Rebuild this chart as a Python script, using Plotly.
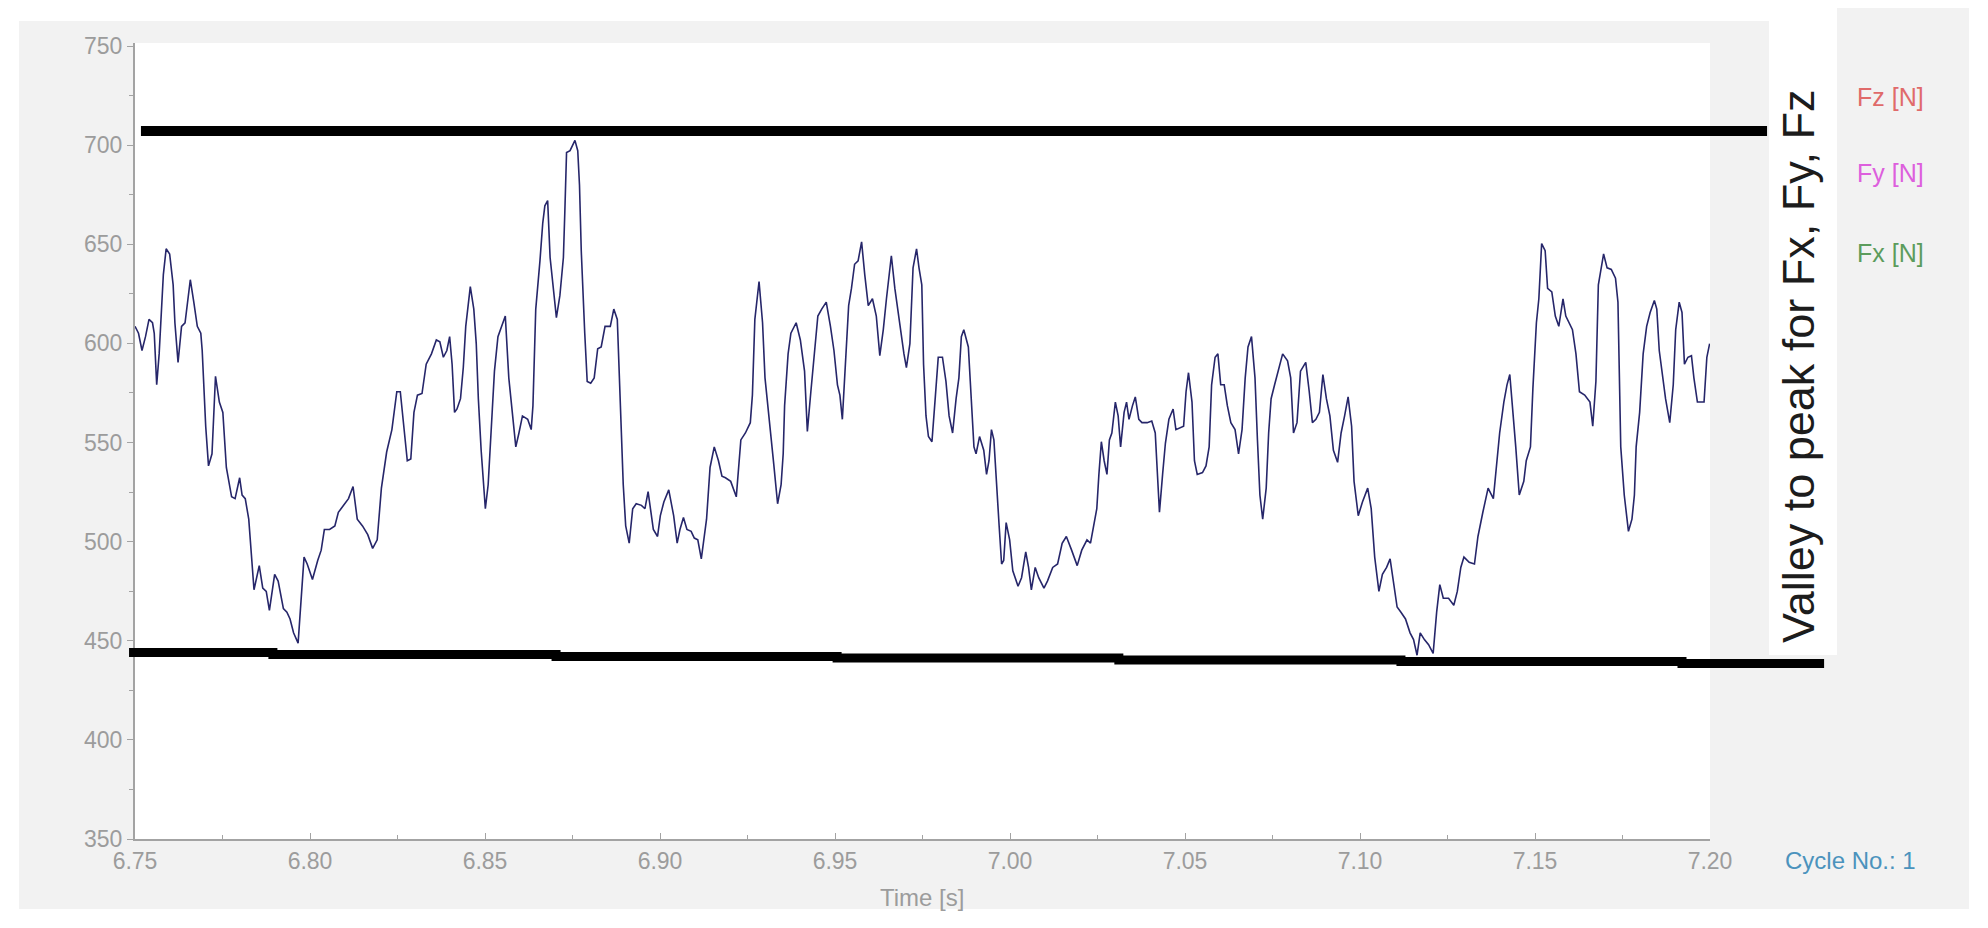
import plotly.graph_objects as go

# browser page is 1988x928; the html body adds an 8px margin, so the figure is
# 8px smaller on each axis and all page-pixel positions are shifted by 8px.
PAGE_OFF = 8
W, H = 1988 - PAGE_OFF, 928 - PAGE_OFF

# ---------------- data ----------------
time_s = [
    6.7500, 6.7510, 6.7520, 6.7530, 6.7540, 6.7550, 6.7555, 6.7562, 6.7569, 6.7576,
    6.7581, 6.7589, 6.7599, 6.7609, 6.7614, 6.7623, 6.7633, 6.7643, 6.7658, 6.7668,
    6.7678, 6.7688, 6.7692, 6.7702, 6.7710, 6.7720, 6.7730, 6.7741, 6.7751, 6.7761,
    6.7776, 6.7786, 6.7799, 6.7806, 6.7815, 6.7825, 6.7835, 6.7840, 6.7855, 6.7865,
    6.7875, 6.7884, 6.7899, 6.7909, 6.7924, 6.7934, 6.7943, 6.7953, 6.7966, 6.7978,
    6.7983, 6.7992, 6.8007, 6.8022, 6.8032, 6.8041, 6.8056, 6.8071, 6.8081, 6.8096,
    6.8110, 6.8123, 6.8135, 6.8150, 6.8165, 6.8179, 6.8192, 6.8204, 6.8219, 6.8234,
    6.8248, 6.8258, 6.8268, 6.8278, 6.8288, 6.8297, 6.8307, 6.8320, 6.8332, 6.8347,
    6.8361, 6.8371, 6.8381, 6.8391, 6.8399, 6.8406, 6.8413, 6.8420, 6.8430, 6.8438,
    6.8445, 6.8458, 6.8468, 6.8475, 6.8481, 6.8489, 6.8501, 6.8509, 6.8521, 6.8527,
    6.8537, 6.8548, 6.8558, 6.8568, 6.8578, 6.8588, 6.8597, 6.8607, 6.8622, 6.8632,
    6.8637, 6.8645, 6.8657, 6.8665, 6.8671, 6.8679, 6.8686, 6.8696, 6.8704, 6.8714,
    6.8724, 6.8728, 6.8733, 6.8743, 6.8750, 6.8757, 6.8765, 6.8770, 6.8775, 6.8780,
    6.8785, 6.8792, 6.8802, 6.8812, 6.8822, 6.8832, 6.8843, 6.8858, 6.8868, 6.8878,
    6.8883, 6.8888, 6.8895, 6.8902, 6.8912, 6.8922, 6.8932, 6.8947, 6.8957, 6.8966,
    6.8973, 6.8981, 6.8993, 6.9001, 6.9011,
    6.9025, 6.9039, 6.9049, 6.9057, 6.9067, 6.9077, 6.9089, 6.9098, 6.9108, 6.9118,
    6.9133, 6.9143, 6.9155, 6.9167, 6.9177, 6.9187, 6.9202, 6.9218, 6.9231, 6.9244,
    6.9258, 6.9264, 6.9271, 6.9283, 6.9293, 6.9300, 6.9313, 6.9325, 6.9336, 6.9346,
    6.9352, 6.9356, 6.9366, 6.9374, 6.9389, 6.9401, 6.9413, 6.9421, 6.9431, 6.9441,
    6.9451, 6.9462, 6.9475, 6.9487, 6.9497, 6.9507, 6.9514, 6.9521, 6.9531, 6.9539,
    6.9547, 6.9556, 6.9566, 6.9576, 6.9585, 6.9595, 6.9607, 6.9618, 6.9628, 6.9638,
    6.9647, 6.9661, 6.9671, 6.9679, 6.9689, 6.9697, 6.9704, 6.9714, 6.9723, 6.9733,
    6.9740, 6.9748, 6.9753, 6.9760, 6.9767, 6.9777, 6.9787, 6.9795, 6.9807, 6.9817,
    6.9826, 6.9836, 6.9846, 6.9854, 6.9861, 6.9868, 6.9881, 6.9890, 6.9897, 6.9903,
    6.9913, 6.9925, 6.9933, 6.9940, 6.9947, 6.9954, 6.9962, 6.9969, 6.9976, 6.9982,
    6.9989, 6.9999, 7.0008, 7.0023, 7.0033, 7.0045, 7.0053, 7.0061, 7.0072, 7.0082,
    7.0097, 7.0107, 7.0122, 7.0136, 7.0149, 7.0161, 7.0176, 7.0192, 7.0205, 7.0220,
    7.0230, 7.0238, 7.0248, 7.0254, 7.0261, 7.0269, 7.0277, 7.0284, 7.0291, 7.0301,
    7.0309, 7.0316, 7.0326, 7.0333, 7.0340, 7.0350, 7.0358, 7.0368, 7.0377, 7.0392,
    7.0405, 7.0415, 7.0422, 7.0427, 7.0436, 7.0444, 7.0454, 7.0466, 7.0474, 7.0484,
    7.0496, 7.0503, 7.0510, 7.0520, 7.0527, 7.0535, 7.0550, 7.0560, 7.0569, 7.0576,
    7.0586, 7.0594, 7.0602, 7.0612, 7.0621, 7.0631, 7.0643, 7.0653, 7.0663, 7.0672,
    7.0680, 7.0690, 7.0700, 7.0707, 7.0714, 7.0722, 7.0732, 7.0739, 7.0746, 7.0756,
    7.0766, 7.0779, 7.0793, 7.0802, 7.0810, 7.0820, 7.0830, 7.0845, 7.0855, 7.0864,
    7.0874, 7.0884, 7.0894, 7.0904, 7.0914, 7.0924, 7.0936, 7.0946, 7.0956, 7.0966,
    7.0976, 7.0983, 7.0995, 7.1007, 7.1022, 7.1032, 7.1042, 7.1054, 7.1064, 7.1076,
    7.1086, 7.1096, 7.1106, 7.1117, 7.1130, 7.1143, 7.1153, 7.1163, 7.1172, 7.1184,
    7.1196, 7.1209, 7.1219, 7.1228, 7.1238, 7.1253, 7.1268, 7.1278, 7.1288, 7.1297,
    7.1312, 7.1327, 7.1337, 7.1351, 7.1366, 7.1381, 7.1389, 7.1399, 7.1411, 7.1420,
    7.1428, 7.1438, 7.1445, 7.1455, 7.1468, 7.1475, 7.1487, 7.1494, 7.1504, 7.1511,
    7.1519, 7.1529, 7.1536, 7.1548, 7.1558, 7.1568, 7.1580, 7.1588, 7.1597, 7.1607,
    7.1617, 7.1627, 7.1642, 7.1657, 7.1665, 7.1674, 7.1681, 7.1696, 7.1706, 7.1718,
    7.1730, 7.1737, 7.1745, 7.1755, 7.1767, 7.1777, 7.1784, 7.1789, 7.1799, 7.1809,
    7.1819, 7.1829, 7.1841, 7.1848, 7.1855, 7.1863, 7.1873, 7.1885, 7.1895, 7.1902,
    7.1912, 7.1920, 7.1927, 7.1937, 7.1947, 7.1954, 7.1964, 7.1974, 7.1983, 7.1991,
    7.1999,
]

force_n = [
    608.6, 605.1, 596.4, 603.4, 612.1, 610.4, 605.1, 579.1, 594.7, 622.5,
    634.7, 647.7, 645.1, 629.5, 610.4, 590.4, 608.6, 610.4, 632.1, 620.8,
    608.6, 605.1, 596.4, 558.2, 538.2, 544.3, 583.4, 570.4, 565.2, 537.4,
    522.6, 521.7, 532.2, 523.5, 521.7, 511.3, 490.5, 475.7, 487.9, 476.6,
    474.9, 465.3, 483.5, 480.1, 466.2, 464.4, 461.0, 454.0, 448.8, 481.8,
    492.2, 488.7, 480.9, 490.5, 495.7, 506.1, 506.1, 507.9, 514.8, 518.3,
    521.7, 527.8, 511.3, 507.9, 503.5, 496.6, 500.9, 527.0, 545.2, 556.5,
    575.6, 575.6, 558.2, 540.8, 541.7, 565.2, 573.9, 574.7, 589.5, 594.7,
    601.7, 600.8, 593.0, 596.4, 603.4, 589.5, 565.2, 566.9, 572.1, 587.8,
    608.6, 628.6, 617.3, 599.9, 572.1, 546.1, 516.6, 528.7, 566.9, 586.0,
    603.4, 608.6, 613.8, 582.6, 565.2, 547.8, 554.8, 563.4, 561.7, 556.5,
    568.6, 617.3, 641.6, 660.7, 669.4, 672.0, 643.3, 624.2, 613.0, 624.2,
    643.3, 665.9, 696.3, 697.2, 699.8, 702.4, 697.2, 679.8, 646.8, 620.8,
    605.1, 580.8, 579.9, 582.6, 597.3, 598.2, 608.6, 608.6, 617.3, 612.1,
    586.0, 560.8, 528.7, 507.9, 499.2, 516.6, 519.1, 518.3, 516.6, 525.2,
    516.6, 506.1, 502.6, 513.1, 520.0,
    526.1, 513.1, 499.2, 506.1, 512.2, 506.1, 505.2, 501.8, 500.9, 491.3,
    511.3, 537.4, 547.8, 540.8, 533.0, 532.2, 530.4, 522.6, 551.3, 554.8,
    560.0, 573.9, 612.1, 631.2, 610.4, 582.6, 558.2, 539.1, 519.1, 528.7,
    544.3, 568.6, 594.7, 605.1, 610.4, 601.7, 586.0, 555.6, 575.6, 594.7,
    613.8, 617.3, 620.8, 608.6, 596.4, 579.1, 573.9, 561.7, 594.7, 619.0,
    627.7, 639.9, 641.6, 651.2, 634.7, 619.0, 622.5, 613.8, 593.8, 606.9,
    622.5, 644.2, 627.7, 617.3, 603.4, 594.7, 587.8, 599.9, 638.1, 647.7,
    638.1, 629.5, 589.5, 563.4, 553.0, 550.4, 573.9, 593.0, 593.0, 580.8,
    563.4, 554.8, 572.1, 582.6, 603.4, 606.9, 598.2, 568.6, 547.8, 544.3,
    553.0, 546.1, 533.9, 540.8, 556.5, 551.3, 525.2, 507.9, 488.7, 490.5,
    509.6, 500.9, 485.3, 477.5, 481.8, 494.8, 487.0, 475.7, 487.0, 481.8,
    476.6, 480.1, 487.0, 488.7, 499.2, 502.6, 495.7, 487.9, 495.7, 500.9,
    499.2, 507.9, 516.6, 533.9, 550.4, 540.8, 533.9, 551.3, 554.8, 570.4,
    563.4, 547.8, 565.2, 570.4, 561.7, 568.6, 573.0, 561.7, 560.0, 560.0,
    560.8, 554.8, 533.9, 514.8, 533.9, 549.6, 561.7, 566.9, 556.5, 557.4,
    558.2, 575.6, 585.2, 570.4, 540.8, 533.9, 534.8, 538.2, 547.8, 579.1,
    593.0, 594.7, 579.1, 579.1, 568.6, 560.0, 556.5, 544.3, 556.5, 582.6,
    598.2, 603.4, 582.6, 551.3, 523.5, 511.3, 527.0, 554.8, 572.1, 579.1,
    586.0, 594.7, 591.2, 582.6, 554.8, 560.0, 586.0, 590.4, 575.6, 560.0,
    561.7, 565.2, 584.3, 572.1, 563.4, 546.1, 540.0, 554.8, 563.4, 573.0,
    558.2, 530.4, 513.1, 520.0, 527.0, 516.6, 492.2, 474.9, 483.5, 487.0,
    491.3, 480.1, 467.0, 464.4, 461.0, 454.0, 450.6, 442.7, 454.0, 450.6,
    448.0, 443.6, 464.4, 478.3, 471.4, 471.4, 467.9, 474.9, 487.0, 492.2,
    489.6, 488.7, 502.6, 514.8, 527.0, 521.7, 537.4, 554.8, 570.4, 579.1,
    584.3, 565.2, 547.8, 523.5, 530.4, 540.8, 547.8, 577.3, 610.4, 622.5,
    650.3, 646.8, 627.7, 626.0, 613.8, 608.6, 622.5, 613.8, 610.4, 606.9,
    594.7, 575.6, 573.9, 570.4, 558.2, 580.8, 629.5, 645.1, 638.1, 637.3,
    632.9, 620.8, 547.8, 523.5, 505.2, 511.3, 523.5, 547.8, 565.2, 594.7,
    608.6, 615.6, 621.6, 617.3, 596.4, 584.3, 572.1, 560.0, 579.1, 606.9,
    620.8, 615.6, 589.5, 593.0, 593.8, 582.6, 570.4, 570.4, 570.4, 593.0,
    599.9,
]

# hand-drawn "valley to peak" marker lines (time [s], force [N])
peak_line_t = [6.7517, 7.2163]
peak_line_f = [707.1, 707.1]
valley_line_t = [6.7483, 6.7894, 6.8703, 6.9506, 7.0311, 7.1117, 7.1920, 7.2326]
valley_line_f = [444.1, 443.1, 442.1, 441.3, 440.3, 439.5, 438.5, 438.5]

x_tick_vals = [6.75, 6.80, 6.85, 6.90, 6.95, 7.00, 7.05, 7.10, 7.15, 7.20]
x_tick_text = ["6.75", "6.80", "6.85", "6.90", "6.95", "7.00", "7.05", "7.10", "7.15", "7.20"]
y_tick_vals = [350, 400, 450, 500, 550, 600, 650, 700, 750]

legend_labels = ["Fz [N]", "Fy [N]", "Fx [N]"]
legend_colors = ["#e06a6a", "#dd5fdd", "#5c9c5c"]

# ---------------- layout geometry (page pixels) ----------------
PLOT_L, PLOT_R, PLOT_T, PLOT_B = 135, 1710, 43, 839
X_RANGE = [6.75, 7.20]
Y_RANGE = [350, 750 + 3 * 400 / 793]


def px(x):
    return (x - PAGE_OFF) / W


def py(y):
    return 1 - (y - PAGE_OFF) / H


sx = (X_RANGE[1] - X_RANGE[0]) / (PLOT_R - PLOT_L)
sy = (Y_RANGE[1] - Y_RANGE[0]) / (PLOT_B - PLOT_T)
X2_RANGE = [X_RANGE[0] - (PLOT_L - PAGE_OFF) * sx, X_RANGE[0] + (PAGE_OFF + W - PLOT_L) * sx]
Y2_RANGE = [Y_RANGE[0] - (PAGE_OFF + H - PLOT_B) * sy, Y_RANGE[0] + (PLOT_B - PAGE_OFF) * sy]

FONT = "Liberation Sans, Arial, sans-serif"
GRAY_TXT = "#9c9c9c"
AXIS_COL = "#a3a3a3"
PANEL = "#f2f2f2"

fig = go.Figure()

fig.add_trace(go.Scatter(
    x=time_s, y=force_n, mode="lines",
    line=dict(color="#26266a", width=1.6),
    xaxis="x", yaxis="y", showlegend=False, hoverinfo="skip",
))

fig.add_trace(go.Scatter(
    x=peak_line_t, y=peak_line_f, mode="lines",
    line=dict(color="#000000", width=10),
    xaxis="x2", yaxis="y2", showlegend=False, hoverinfo="skip",
))
fig.add_trace(go.Scatter(
    x=valley_line_t, y=valley_line_f, mode="lines",
    line=dict(color="#000000", width=9, shape="hv"),
    xaxis="x2", yaxis="y2", showlegend=False, hoverinfo="skip",
))

shapes = [
    # gray application panel
    dict(type="rect", xref="paper", yref="paper", x0=px(19), x1=px(1969), y0=py(909), y1=py(21),
         fillcolor=PANEL, line=dict(width=0), layer="below"),
    dict(type="rect", xref="paper", yref="paper", x0=px(1837), x1=px(1969), y0=py(21), y1=1,
         fillcolor=PANEL, line=dict(width=0), layer="below"),
    # white box behind the rotated caption
    dict(type="rect", xref="paper", yref="paper", x0=px(1769), x1=px(1837), y0=py(655), y1=1,
         fillcolor="#ffffff", line=dict(width=0), layer="below"),
    # white plotting area
    dict(type="rect", xref="x domain", yref="y domain", x0=0, x1=1, y0=0, y1=1,
         fillcolor="#ffffff", line=dict(width=0), layer="below"),
]

annotations = [
    dict(text="Valley to peak for Fx, Fy, Fz", textangle=-90, x=px(1798), y=py(366),
         xref="paper", yref="paper", xanchor="center", yanchor="middle", showarrow=False,
         font=dict(family=FONT, size=45, color="#1c1c1c")),
    dict(text="Time [s]", x=px(922), y=py(897), xref="paper", yref="paper",
         xanchor="center", yanchor="middle", showarrow=False,
         font=dict(family=FONT, size=24, color=GRAY_TXT)),
    dict(text="Cycle No.: 1", x=px(1783), y=py(860), xref="paper", yref="paper",
         xanchor="left", yanchor="middle", showarrow=False,
         font=dict(family=FONT, size=24, color="#4b93bd")),
]
for i, (lab, col) in enumerate(zip(legend_labels, legend_colors)):
    annotations.append(dict(text=lab, x=px(1855), y=py([97, 173, 253][i]), xref="paper", yref="paper",
                            xanchor="left", yanchor="middle", showarrow=False,
                            font=dict(family=FONT, size=25, color=col)))

fig.update_layout(
    template="none",
    width=W, height=H, autosize=False,
    margin=dict(l=0, r=0, t=0, b=0, pad=0),
    paper_bgcolor="#ffffff", plot_bgcolor="rgba(0,0,0,0)",
    showlegend=False,
    xaxis=dict(domain=[px(PLOT_L), px(PLOT_R)], range=X_RANGE, anchor="y", automargin=False,
               tickvals=x_tick_vals, ticktext=x_tick_text,
               ticks="inside", ticklen=6, tickwidth=1, tickcolor=AXIS_COL,
               minor=dict(ticks="inside", ticklen=4, tickwidth=1, tickcolor=AXIS_COL,
                          tick0=6.775, dtick=0.05, showgrid=False),
               showline=True, linecolor=AXIS_COL, linewidth=2,
               showgrid=False, zeroline=False,
               tickfont=dict(family=FONT, size=23, color=GRAY_TXT)),
    yaxis=dict(domain=[py(PLOT_B), py(PLOT_T)], range=Y_RANGE, anchor="x", automargin=False,
               tickvals=y_tick_vals,
               ticks="outside", ticklen=6, tickwidth=1, tickcolor=AXIS_COL,
               minor=dict(ticks="outside", ticklen=4, tickwidth=1, tickcolor=AXIS_COL,
                          tick0=375, dtick=50, showgrid=False),
               showline=True, linecolor=AXIS_COL, linewidth=2,
               showgrid=False, zeroline=False,
               tickfont=dict(family=FONT, size=23, color=GRAY_TXT)),
    xaxis2=dict(domain=[0, 1], range=X2_RANGE, anchor="y2", visible=False, automargin=False,
                showgrid=False, zeroline=False),
    yaxis2=dict(domain=[0, 1], range=Y2_RANGE, anchor="x2", visible=False, automargin=False,
                showgrid=False, zeroline=False),
    shapes=shapes,
    annotations=annotations,
)

fig.write_html("out.html")
